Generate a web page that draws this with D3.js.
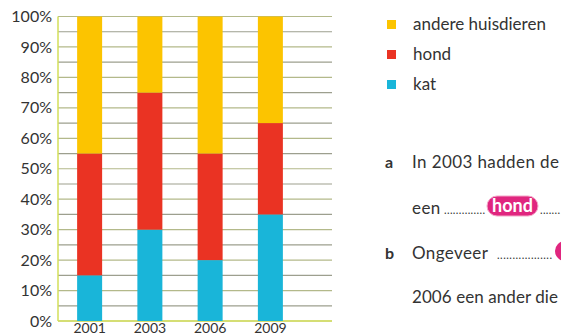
<!DOCTYPE html>
<html lang="nl">
<head>
<meta charset="utf-8">
<title>Huisdieren</title>
<script src="https://cdn.jsdelivr.net/npm/d3@7"></script>
<style>
  body { margin: 0; background: #fff; }
  svg { display: block; }
  text { font-family: Lato, "Open Sans", sans-serif; fill: #333; }
</style>
</head>
<body>
<script>
// data (percent)
var years = ["2001", "2003", "2006", "2009"];
var kat = [15, 30, 20, 35];
var hond = [40, 45, 35, 30];
var andere = [45, 25, 45, 35];
var yTicks = [0, 10, 20, 30, 40, 50, 60, 70, 80, 90, 100];
var gridSteps = d3.range(0, 101, 5);

var seriesNames = ["kat", "hond", "andere"];
var legendKeys = ["andere", "hond", "kat"];
var legendLabels = ["andere huisdieren", "hond", "kat"];
var colors = { kat: "#19b5d9", hond: "#ea3323", andere: "#fcc400" };

var w = 561, h = 336;

var rows = years.map(function(y, i) {
  return { year: y, kat: kat[i], hond: hond[i], andere: andere[i] };
});

var svg = d3.select("body").append("svg")
  .attr("width", w)
  .attr("height", h);

var x = d3.scaleBand()
  .domain(years)
  .range([59.5, 300.5])
  .paddingInner(0.585)
  .paddingOuter(0.2925);

var y = d3.scaleLinear()
  .domain([0, 100])
  .range([321, 16.5]);

// grid lines, every 5%
svg.append("g")
  .selectAll("line")
  .data(gridSteps)
  .enter()
  .append("line")
  .attr("x1", 58)
  .attr("x2", 332)
  .attr("y1", function(d) { return y(d); })
  .attr("y2", function(d) { return y(d); })
  .attr("stroke", function(d) { return d % 10 === 0 ? "#b3b98a" : "#9d9f8e"; })
  .attr("stroke-width", 1.2);

// bottom and left axis line
svg.append("line")
  .attr("x1", 58).attr("x2", 332)
  .attr("y1", y(0)).attr("y2", y(0))
  .attr("stroke", "#d3df5a").attr("stroke-width", 1.5);
svg.append("line")
  .attr("x1", 58).attr("x2", 58)
  .attr("y1", y(100)).attr("y2", y(0))
  .attr("stroke", "#d3df5a").attr("stroke-width", 1.5);

// stacked bars
var stack = d3.stack().keys(seriesNames);
var layers = stack(rows);

svg.append("g")
  .selectAll("g")
  .data(layers)
  .enter()
  .append("g")
  .attr("fill", function(d) { return colors[d.key]; })
  .selectAll("rect")
  .data(function(d) { return d; })
  .enter()
  .append("rect")
  .attr("x", function(d) { return x(d.data.year); })
  .attr("width", x.bandwidth())
  .attr("y", function(d) { return y(d[1]); })
  .attr("height", function(d) { return y(d[0]) - y(d[1]); });

// y axis labels
var yAxis = d3.axisLeft(y)
  .tickValues(yTicks)
  .tickFormat(function(d) { return d + "%"; })
  .tickSize(0)
  .tickPadding(6);

var gy = svg.append("g")
  .attr("transform", "translate(58,0)")
  .call(yAxis);
gy.select(".domain").remove();
gy.selectAll("text")
  .attr("font-size", 16)
  .attr("font-family", "Lato, 'Open Sans', sans-serif")
  .attr("fill", "#333");

// x axis labels
var xAxis = d3.axisBottom(x).tickSize(0).tickPadding(2);
var gx = svg.append("g")
  .attr("transform", "translate(0," + y(0) + ")")
  .call(xAxis);
gx.select(".domain").remove();
gx.selectAll("text")
  .attr("font-size", 14)
  .attr("font-family", "Lato, 'Open Sans', sans-serif")
  .attr("fill", "#333");

// legend
var legend = svg.append("g")
  .selectAll("g")
  .data(legendLabels)
  .enter()
  .append("g")
  .attr("transform", function(d, i) { return "translate(387," + (20 + i * 30) + ")"; });

legend.append("rect")
  .attr("width", 9)
  .attr("height", 9)
  .attr("fill", function(d, i) { return colors[legendKeys[i]]; });

legend.append("text")
  .attr("x", 26)
  .attr("y", 10)
  .attr("font-size", 17)
  .text(function(d) { return d; });

// question text
function dots(x0, yb, n, len) {
  q.append("text").attr("x", x0).attr("y", yb).attr("font-size", 11)
    .attr("textLength", len).attr("lengthAdjust", "spacing")
    .text(".".repeat(n));
}

var q = svg.append("g");
q.append("text").attr("x", 385).attr("y", 168).attr("font-size", 16)
  .attr("font-weight", "bold").text("a");
q.append("text").attr("x", 412).attr("y", 168).attr("font-size", 17)
  .attr("letter-spacing", 0.4).text("In 2003 hadden de");
q.append("text").attr("x", 412).attr("y", 214).attr("font-size", 17)
  .attr("letter-spacing", 0.4).text("een");
dots(444, 214, 14, 41);
dots(540, 214, 7, 20);
q.append("rect").attr("x", 487).attr("y", 196).attr("width", 51).attr("height", 20)
  .attr("rx", 10).attr("fill", "#e0267f").attr("stroke", "#f4a6c8").attr("stroke-width", 1);
q.append("text").attr("x", 512.5).attr("y", 212).attr("font-size", 18)
  .attr("text-anchor", "middle").attr("font-weight", "bold")
  .attr("font-family", "'Liberation Sans Narrow', 'Roboto Condensed', Roboto, sans-serif")
  .style("fill", "#fff").text("hond");
q.append("text").attr("x", 385).attr("y", 259).attr("font-size", 16)
  .attr("font-weight", "bold").text("b");
q.append("text").attr("x", 412).attr("y", 259).attr("font-size", 17)
  .attr("letter-spacing", 0.4).text("Ongeveer");
dots(497, 259, 18, 55);
q.append("rect").attr("x", 555).attr("y", 241).attr("width", 40).attr("height", 20)
  .attr("rx", 10).attr("fill", "#e0267f");
q.append("text").attr("x", 412).attr("y", 303).attr("font-size", 17)
  .attr("textLength", 146).attr("lengthAdjust", "spacing")
  .text("2006 een ander die");
</script>
</body>
</html>
